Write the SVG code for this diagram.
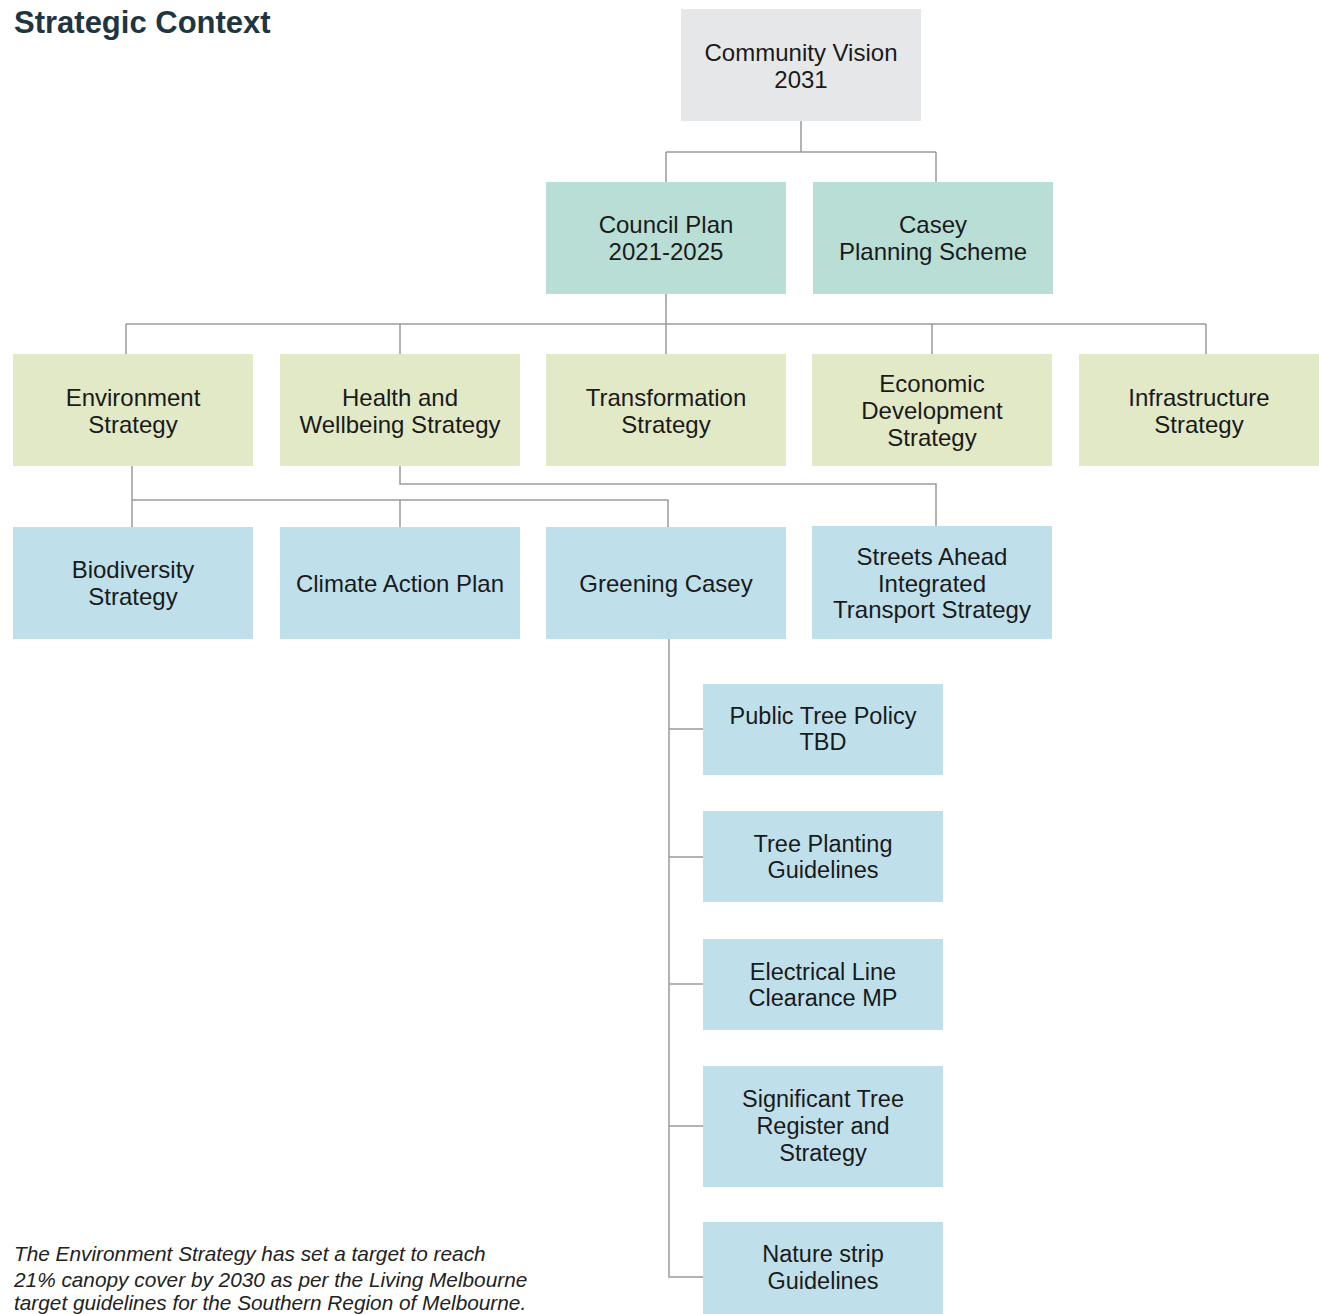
<svg xmlns="http://www.w3.org/2000/svg" width="1319" height="1314" viewBox="0 0 1319 1314">
<style>
  text { font-family: "Liberation Sans", Arial, sans-serif; }
  .lbl { font-size: 24px; fill: #1a1a1a; text-anchor: middle; }
  .lbl2 { font-size: 23.5px; fill: #1a1a1a; text-anchor: middle; }
  .grey { fill: #e6e7e8; }
  .teal { fill: #b8ded6; }
  .olive { fill: #e2e9c6; }
  .blue { fill: #bfe0eb; }
  .conn { fill: none; stroke: #9a9a9a; stroke-width: 1.5; }
  .title { font-size: 31px; font-weight: bold; fill: #1f3542; }
  .note { font-size: 20.8px; font-style: italic; fill: #222; }
</style>
<rect width="1319" height="1314" fill="#ffffff"/>
<text class="title" x="14" y="33">Strategic Context</text>

<g id="connectors">
  <path class="conn" d="M801 121 V152 M666 152 H936 M666 152 V182 M936 152 V182"/>
  <path class="conn" d="M666 294 V324 M126 324 H1206 M126 324 V354 M400 324 V354 M666 324 V354 M932 324 V354 M1206 324 V354"/>
  <path class="conn" d="M132 466 V527 M132 500 H668 V527 M400 500 V527"/>
  <path class="conn" d="M400 466 V484 H936 V526"/>
  <path class="conn" d="M669 639 V1277 H703 M669 729 H703 M669 857 H703 M669 984 H703 M669 1126 H703"/>
</g>

<g id="community-vision">
  <rect class="grey" x="681" y="9" width="240" height="112"/>
  <text class="lbl" x="801" y="61">Community Vision</text>
  <text class="lbl" x="801" y="88">2031</text>
</g>
<g id="council-plan">
  <rect class="teal" x="546" y="182" width="240" height="112"/>
  <text class="lbl" x="666" y="233">Council Plan</text>
  <text class="lbl" x="666" y="260">2021-2025</text>
</g>
<g id="casey-planning-scheme">
  <rect class="teal" x="813" y="182" width="240" height="112"/>
  <text class="lbl" x="933" y="233">Casey</text>
  <text class="lbl" x="933" y="260">Planning Scheme</text>
</g>

<g id="environment-strategy">
  <rect class="olive" x="13" y="354" width="240" height="112"/>
  <text class="lbl" x="133" y="406">Environment</text>
  <text class="lbl" x="133" y="433">Strategy</text>
</g>
<g id="health-wellbeing-strategy">
  <rect class="olive" x="280" y="354" width="240" height="112"/>
  <text class="lbl" x="400" y="406">Health and</text>
  <text class="lbl" x="400" y="433">Wellbeing Strategy</text>
</g>
<g id="transformation-strategy">
  <rect class="olive" x="546" y="354" width="240" height="112"/>
  <text class="lbl" x="666" y="406">Transformation</text>
  <text class="lbl" x="666" y="433">Strategy</text>
</g>
<g id="economic-development-strategy">
  <rect class="olive" x="812" y="354" width="240" height="112"/>
  <text class="lbl" x="932" y="392">Economic</text>
  <text class="lbl" x="932" y="419">Development</text>
  <text class="lbl" x="932" y="446">Strategy</text>
</g>
<g id="infrastructure-strategy">
  <rect class="olive" x="1079" y="354" width="240" height="112"/>
  <text class="lbl" x="1199" y="406">Infrastructure</text>
  <text class="lbl" x="1199" y="433">Strategy</text>
</g>

<g id="biodiversity-strategy">
  <rect class="blue" x="13" y="527" width="240" height="112"/>
  <text class="lbl" x="133" y="578">Biodiversity</text>
  <text class="lbl" x="133" y="605">Strategy</text>
</g>
<g id="climate-action-plan">
  <rect class="blue" x="280" y="527" width="240" height="112"/>
  <text class="lbl" x="400" y="592">Climate Action Plan</text>
</g>
<g id="greening-casey">
  <rect class="blue" x="546" y="527" width="240" height="112"/>
  <text class="lbl" x="666" y="592">Greening Casey</text>
</g>
<g id="streets-ahead">
  <rect class="blue" x="812" y="526" width="240" height="113"/>
  <text class="lbl" x="932" y="565">Streets Ahead</text>
  <text class="lbl" x="932" y="592">Integrated</text>
  <text class="lbl" x="932" y="618">Transport Strategy</text>
</g>

<g id="public-tree-policy">
  <rect class="blue" x="703" y="684" width="240" height="91"/>
  <text class="lbl2" x="823" y="724">Public Tree Policy</text>
  <text class="lbl2" x="823" y="750">TBD</text>
</g>
<g id="tree-planting-guidelines">
  <rect class="blue" x="703" y="811" width="240" height="91"/>
  <text class="lbl2" x="823" y="852">Tree Planting</text>
  <text class="lbl2" x="823" y="878">Guidelines</text>
</g>
<g id="electrical-line-clearance">
  <rect class="blue" x="703" y="939" width="240" height="91"/>
  <text class="lbl2" x="823" y="980">Electrical Line</text>
  <text class="lbl2" x="823" y="1006">Clearance MP</text>
</g>
<g id="significant-tree-register">
  <rect class="blue" x="703" y="1066" width="240" height="121"/>
  <text class="lbl2" x="823" y="1107">Significant Tree</text>
  <text class="lbl2" x="823" y="1134">Register and</text>
  <text class="lbl2" x="823" y="1161">Strategy</text>
</g>
<g id="nature-strip-guidelines">
  <rect class="blue" x="703" y="1222" width="240" height="92"/>
  <text class="lbl2" x="823" y="1262">Nature strip</text>
  <text class="lbl2" x="823" y="1289">Guidelines</text>
</g>

<g id="note">
  <text class="note" x="14" y="1261">The Environment Strategy has set a target to reach</text>
  <text class="note" x="14" y="1287">21% canopy cover by 2030 as per the Living Melbourne</text>
  <text class="note" x="14" y="1310">target guidelines for the Southern Region of Melbourne.</text>
</g>
</svg>
